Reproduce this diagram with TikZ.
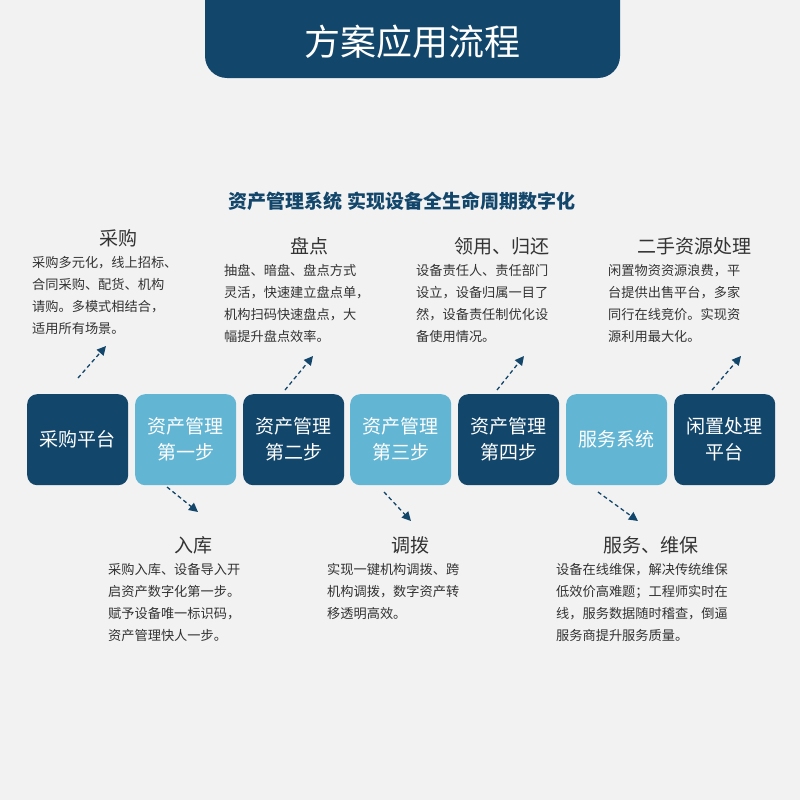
\documentclass[tikz,border=0pt]{standalone}
\usepackage{fontspec}
\setmainfont{Noto Sans CJK SC}
\usetikzlibrary{arrows.meta}
\definecolor{dk}{HTML}{12466B}
\definecolor{lt}{HTML}{62B5D3}
\definecolor{bg}{HTML}{F2F2F2}
\definecolor{tx}{HTML}{333333}
\begin{document}
\begin{tikzpicture}[x=1pt,y=-1pt,
  box/.style={rounded corners=10pt,minimum width=101pt,minimum height=91pt,anchor=north west,inner sep=0pt,text=white,align=center,font=\fontsize{19}{26}\selectfont},
  hd/.style={font=\fontsize{19}{22}\selectfont,text=tx},
  bd/.style={font=\fontsize{13.2}{22}\selectfont,text=tx,align=left,anchor=north west,inner sep=0pt},
  arr/.style={dk,dashed,line width=1.3pt,dash pattern=on 4pt off 3pt,-{Triangle[length=9pt,width=9pt]}}]
\fill[bg] (0,0) rectangle (800,800);
\useasboundingbox (0,0) rectangle (800,800);
\fill[dk] (205,-20) [rounded corners=22pt] -- (205,78) -- (620,78) [sharp corners] -- (620,-20) -- cycle;
\node[text=white,font=\fontsize{36}{40}\selectfont] (title) at (412,42) {方案应用流程};
\node[text=dk,font=\bfseries\fontsize{19}{22}\selectfont] (sub) at (402,201) {资产管理系统\hspace{6pt}实现设备全生命周期数字化};
\node[box,fill=dk] (b1) at (27,394) {采购平台};
\node[box,fill=lt] (b2) at (135,394) {资产管理\\第一步};
\node[box,fill=dk] (b3) at (243,394) {资产管理\\第二步};
\node[box,fill=lt] (b4) at (350,394) {资产管理\\第三步};
\node[box,fill=dk] (b5) at (458,394) {资产管理\\第四步};
\node[box,fill=lt] (b6) at (566,394) {服务系统};
\node[box,fill=dk] (b7) at (674,394) {闲置处理\\平台};
\coordinate (u1s) at (78,378); \coordinate (u1e) at (106,346);
\coordinate (u2s) at (285,390); \coordinate (u2e) at (313,356);
\coordinate (u3s) at (497,390); \coordinate (u3e) at (524,356);
\coordinate (u4s) at (712,390); \coordinate (u4e) at (741,356);
\coordinate (d1s) at (167,487); \coordinate (d1e) at (198,512);
\coordinate (d2s) at (384,492); \coordinate (d2e) at (411,521);
\coordinate (d3s) at (598,492); \coordinate (d3e) at (638,521);
\foreach \a in {u1,u2,u3,u4,d1,d2,d3} \draw[arr] (\a s) -- (\a e);
\node[hd] (h1) at (118,238) {采购};
\node[bd] (t1) at (32,256) {采购多元化，线上招标、\\合同采购、配货、机构\\请购。多模式相结合，\\适用所有场景。};
\node[hd] (h2) at (309,246) {盘点};
\node[bd] (t2) at (224,264) {抽盘、暗盘、盘点方式\\灵活，快速建立盘点单，\\机构扫码快速盘点，大\\幅提升盘点效率。};
\node[hd] (h3) at (502,246) {领用、归还};
\node[bd] (t3) at (416,264) {设备责任人、责任部门\\设立，设备归属一目了\\然，设备责任制优化设\\备使用情况。};
\node[hd] (h4) at (694,246) {二手资源处理};
\node[bd] (t4) at (608,264) {闲置物资资源浪费，平\\台提供出售平台，多家\\同行在线竞价。实现资\\源利用最大化。};
\node[hd] (h5) at (193,545) {入库};
\node[bd] (t5) at (108,563) {采购入库、设备导入开\\启资产数字化第一步。\\赋予设备唯一标识码，\\资产管理快人一步。};
\node[hd] (h6) at (410,545) {调拨};
\node[bd] (t6) at (327,563) {实现一键机构调拨、跨\\机构调拨，数字资产转\\移透明高效。};
\node[hd] (h7) at (651,545) {服务、维保};
\node[bd] (t7) at (556,563) {设备在线维保，解决传统维保\\低效价高难题；工程师实时在\\线，服务数据随时稽查，倒逼\\服务商提升服务质量。};
\end{tikzpicture}
\end{document}
